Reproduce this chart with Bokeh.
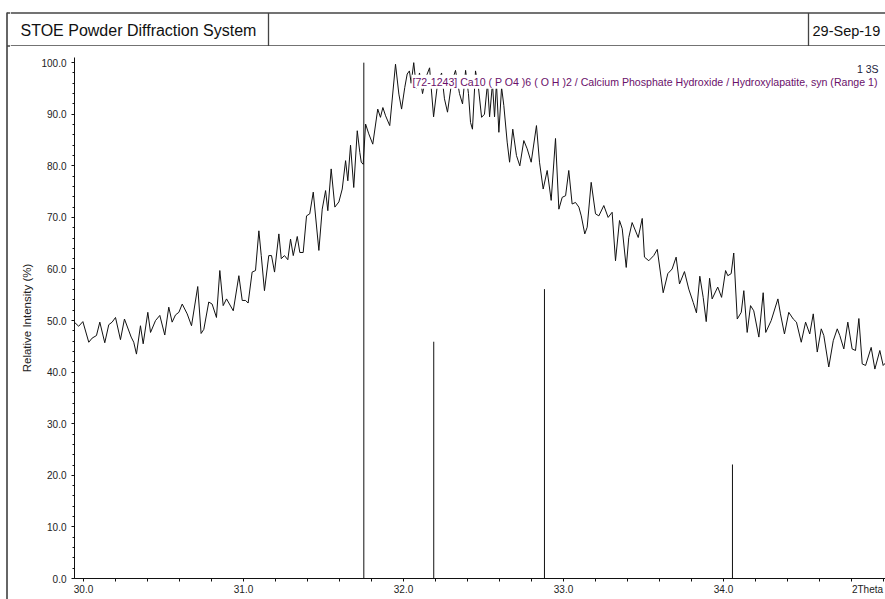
from bokeh.plotting import figure
from bokeh.layouts import column, row
from bokeh.models import Range1d, SingleIntervalTicker, FixedTicker, PrintfTickFormatter, Label
from bokeh.core.properties import value
from bokeh.embed import file_html
from bokeh.resources import INLINE

FONT = "Liberation Sans"

# ---- data ----
two_theta = [
    29.939, 29.970, 29.996, 30.033, 30.054, 30.081, 30.102, 30.133, 30.158, 30.179,
    30.200, 30.231, 30.256, 30.298, 30.314, 30.331, 30.356, 30.373, 30.402, 30.419,
    30.450, 30.477, 30.508, 30.533, 30.554, 30.575, 30.596, 30.617, 30.648, 30.675,
    30.714, 30.735, 30.752, 30.783, 30.804, 30.831, 30.852, 30.873, 30.894, 30.936,
    30.971, 30.992, 31.013, 31.029, 31.054, 31.075, 31.096, 31.111, 31.131, 31.158,
    31.175, 31.194, 31.221, 31.236, 31.256, 31.277, 31.294, 31.311, 31.336, 31.352,
    31.373, 31.394, 31.414, 31.436, 31.471, 31.492, 31.513, 31.527, 31.548, 31.571,
    31.596, 31.617, 31.638, 31.652, 31.669, 31.689, 31.711, 31.727, 31.736, 31.748,
    31.763, 31.783, 31.808, 31.839, 31.856, 31.871, 31.888, 31.914, 31.950, 31.971,
    31.988, 32.008, 32.023, 32.037, 32.048, 32.064, 32.081, 32.100, 32.119, 32.138,
    32.163, 32.188, 32.213, 32.238, 32.256, 32.275, 32.300, 32.325, 32.350, 32.369,
    32.388, 32.406, 32.419, 32.431, 32.450, 32.469, 32.488, 32.506, 32.525, 32.538,
    32.556, 32.569, 32.581, 32.596, 32.613, 32.627, 32.648, 32.663, 32.683, 32.706,
    32.727, 32.752, 32.773, 32.798, 32.831, 32.850, 32.873, 32.898, 32.923, 32.950,
    32.971, 32.992, 33.013, 33.033, 33.054, 33.075, 33.096, 33.111, 33.133, 33.148,
    33.173, 33.200, 33.221, 33.252, 33.279, 33.304, 33.325, 33.350, 33.367, 33.392,
    33.408, 33.429, 33.467, 33.492, 33.506, 33.533, 33.564, 33.586, 33.623, 33.652,
    33.679, 33.704, 33.725, 33.756, 33.783, 33.811, 33.831, 33.852, 33.873, 33.892,
    33.913, 33.929, 33.964, 33.988, 34.013, 34.027, 34.048, 34.064, 34.086, 34.111,
    34.127, 34.148, 34.169, 34.189, 34.221, 34.248, 34.264, 34.298, 34.340, 34.356,
    34.381, 34.408, 34.436, 34.456, 34.486, 34.513, 34.539, 34.561, 34.586, 34.611,
    34.627, 34.658, 34.686, 34.711, 34.727, 34.752, 34.777, 34.804, 34.825, 34.846,
    34.867, 34.888, 34.923, 34.946, 34.977, 34.998, 35.019,
]
intensity = [
    49.8, 48.9, 49.8, 45.8, 46.6, 47.1, 49.7, 45.7, 49.2, 49.7,
    50.6, 46.3, 50.3, 46.8, 45.8, 43.5, 49.0, 45.5, 51.6, 47.7,
    50.0, 51.0, 47.2, 52.6, 49.7, 51.1, 51.6, 53.2, 51.3, 49.0,
    56.6, 47.5, 48.3, 53.6, 53.2, 50.6, 59.7, 52.9, 54.2, 51.9,
    58.7, 53.9, 53.9, 53.4, 59.4, 59.7, 67.4, 62.6, 55.8, 62.6,
    62.6, 59.4, 66.8, 62.0, 62.6, 61.8, 65.8, 62.6, 66.3, 63.2,
    63.2, 70.3, 70.7, 74.9, 63.6, 71.6, 75.2, 71.3, 79.4, 72.0,
    73.0, 75.5, 81.0, 77.1, 84.0, 75.8, 86.8, 82.6, 80.7, 80.3,
    88.1, 86.2, 84.2, 91.0, 89.4, 91.3, 89.7, 87.8, 99.7, 93.9,
    91.0, 95.2, 97.8, 98.4, 96.0, 100.0, 95.0, 98.0, 94.0, 97.0,
    99.0, 89.5, 96.0, 98.0, 93.0, 90.4, 96.0, 98.5, 94.0, 92.0,
    98.5, 94.0, 88.4, 87.1, 98.4, 95.0, 89.4, 90.0, 96.0, 89.5,
    96.0, 89.5, 96.0, 86.5, 95.2, 91.7, 84.6, 80.7, 87.1, 82.0,
    80.0, 84.9, 83.3, 80.7, 87.8, 80.7, 75.5, 79.1, 73.3, 85.3,
    71.6, 73.9, 74.2, 79.1, 72.6, 72.9, 72.0, 70.3, 66.8, 68.1,
    76.8, 70.7, 70.3, 72.3, 70.0, 71.0, 61.6, 69.4, 67.8, 60.3,
    66.1, 69.0, 66.1, 69.8, 62.3, 61.6, 62.6, 63.8, 55.4, 59.1,
    60.0, 62.3, 57.1, 59.5, 56.1, 53.5, 51.5, 58.6, 54.5, 49.8,
    58.2, 54.2, 56.5, 54.5, 59.7, 58.7, 59.1, 63.1, 50.3, 51.6,
    55.8, 47.7, 52.9, 51.9, 46.8, 55.4, 47.7, 50.0, 54.2, 51.3,
    47.4, 51.6, 50.3, 49.7, 45.8, 49.7, 47.4, 51.3, 43.9, 48.4,
    47.1, 41.0, 46.1, 48.4, 47.1, 44.5, 49.7, 44.5, 44.2, 50.4,
    41.6, 41.3, 44.8, 40.6, 44.2, 41.3, 42.0,
]

ref_pos = [31.752, 32.189, 32.881, 34.056]     # [72-1243] stick positions
ref_int = [100.0, 45.9, 56.1, 22.1]            # stick heights

x_major_ticks = [30.0, 31.0, 32.0, 33.0, 34.0, 34.9]
x_tick_overrides = {34.9: "2Theta"}
x_minor_ticks = [round(30.0 + 0.2 * i, 1) for i in range(26)]

title_text = "STOE Powder Diffraction System"
date_text = "29-Sep-19"
ref_text = "[72-1243] Ca10 ( P O4 )6 ( O H )2 / Calcium Phosphate Hydroxide / Hydroxylapatite, syn (Range 1)"
scan_text = "1 3S"
y_label = "Relative Intensity (%)"

FRAME_COLOR = "#444444"

# ---- left page border strip ----
strip = figure(width=10, height=599, x_range=Range1d(0, 10), y_range=Range1d(599, 0),
               toolbar_location=None, output_backend="svg", min_border=0,
               x_axis_type=None, y_axis_type=None, outline_line_color=None,
               frame_align=False)
strip.segment(x0=[6.5], y0=[12], x1=[6.5], y1=[599], line_color="#666666", line_width=2)
strip.segment(x0=[6.5, 6.5], y0=[12.5, 45.5], x1=[10, 10], y1=[12.5, 45.5],
              line_color=FRAME_COLOR, line_width=1.3)

# ---- header ----
header = figure(width=875, height=46, x_range=Range1d(10, 885), y_range=Range1d(46, 0),
                toolbar_location=None, output_backend="svg", min_border=0,
                x_axis_type=None, y_axis_type=None, outline_line_color=None,
                frame_align=False)
header.segment(x0=[10, 10], y0=[12.5, 45.5], x1=[885, 885], y1=[12.5, 45.5],
               line_color=FRAME_COLOR, line_width=1.3)
header.segment(x0=[268, 808], y0=[12.5, 12.5], x1=[268, 808], y1=[45.5, 45.5],
               line_color=FRAME_COLOR, line_width=1.3)
header.text(x=[20], y=[30], text=[title_text], text_font=value(FONT),
            text_font_size="16px", text_baseline="middle", text_color="#111111")
header.text(x=[812], y=[30], text=[date_text], text_font=value(FONT),
            text_font_size="14.5px", text_baseline="middle", text_color="#111111")

# ---- main plot ----
p = figure(width=875, height=553, x_range=Range1d(29.94375, 35.0125), y_range=Range1d(0, 101),
           toolbar_location=None, output_backend="svg",
           min_border_left=64, min_border_right=0, min_border_top=11, min_border_bottom=21,
           outline_line_color=None, frame_align=False)
p.xgrid.visible = False
p.ygrid.visible = False

p.segment(x0=ref_pos, y0=[0] * len(ref_pos), x1=ref_pos, y1=ref_int,
          line_color="#111111", line_width=1)
p.line(two_theta, intensity, line_color="#111111", line_width=1)

xa = p.xaxis[0]
xa.ticker = FixedTicker(ticks=x_major_ticks, minor_ticks=x_minor_ticks)
xa.formatter = PrintfTickFormatter(format="%.1f")
xa.major_label_overrides = x_tick_overrides
ya = p.yaxis[0]
ya.ticker = SingleIntervalTicker(interval=10, num_minor_ticks=5)
ya.formatter = PrintfTickFormatter(format="%.1f")
ya.axis_label = y_label

for ax in (xa, ya):
    ax.axis_line_color = "#111111"
    ax.major_tick_line_color = "#111111"
    ax.minor_tick_line_color = "#111111"
    ax.major_tick_in = 0
    ax.major_tick_out = 3
    ax.minor_tick_in = 0
    ax.minor_tick_out = 2
    ax.major_label_text_font = FONT
    ax.major_label_text_font_size = "10px"
    ax.major_label_text_color = "#222222"
    ax.major_label_standoff = 2
xa.major_tick_out = 0
xa.minor_tick_out = 3
ya.major_label_standoff = 5
ya.axis_label_text_font = FONT
ya.axis_label_text_font_size = "11.5px"
ya.axis_label_text_font_style = "normal"
ya.axis_label_text_color = "#222222"
ya.axis_label_standoff = 5

p.add_layout(Label(x=32.05, y=96.3, text=ref_text, text_font=FONT, text_font_size="10.6px",
                   text_color="#6a106a", text_baseline="middle",
                   background_fill_color="white", padding=1))
p.add_layout(Label(x=34.969, y=98.8, text=scan_text, text_font=FONT, text_font_size="10.5px",
                   text_color="#1a1a3a", text_baseline="middle", text_align="right"))

layout = row(strip, column(header, p, spacing=0), spacing=0)

open("out.html", "w").write(file_html(layout, INLINE))
